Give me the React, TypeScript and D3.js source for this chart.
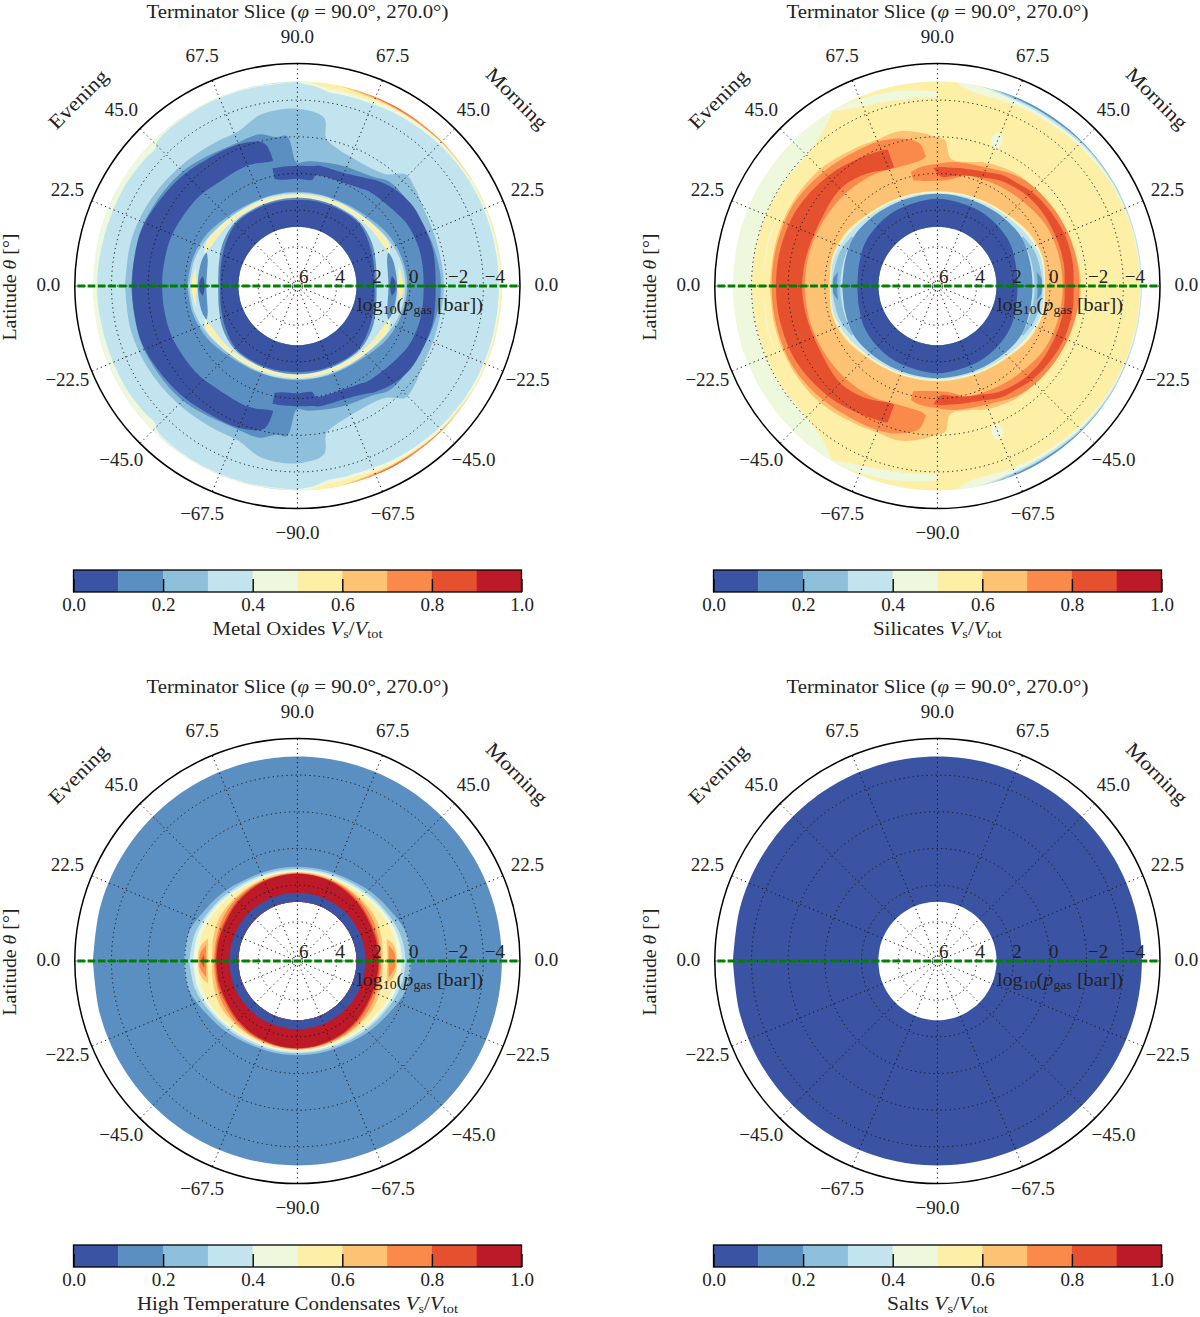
import React, { useEffect, useRef } from 'react';
import * as d3 from 'd3';

// discrete RdYlBu_r levels, one per 0.1 of Vs/Vtot
const bandColors = ['#3a54a3', '#5b8fc1', '#8ebfdb', '#c2e4ee', '#eef8dd', '#feefa6', '#fdc274', '#fa8a4c', '#e5502f', '#bc1a28'];
const cbarTicks = [0, 0.2, 0.4, 0.6, 0.8, 1];
const pressureTicks = [6, 4, 2, 0, -2, -4];
const latTicks = [90, 67.5, 45, 22.5, 0, -22.5, -45, -67.5];
const panelNames = ['Metal Oxides', 'Silicates', 'High Temperature Condensates', 'Salts'];
const nameWidths = [170, 129, 321, 101];

// Layers are painted in order and mirrored north/south.
// [band, angle from north pole (evening < 0 < morning), log10 p at deep edge, log10 p at shallow edge]
type Layer = [number, number[], number[] | number, number[] | number];

const HOLE = 2.91;
const TOP = -5.01;
const ringAng = [-90, -75, -60, -45, -30, -15, 0, 15, 30, 45, 60, 75, 90];
const sym = (h: number[]) => [h[6], h[5], h[4], h[3], h[2], h[1], h[0], h[1], h[2], h[3], h[4], h[5], h[6]];
const flip = (l: Layer): Layer => [
  l[0],
  l[1].map((a) => -a).reverse(),
  Array.isArray(l[2]) ? [...l[2]].reverse() : l[2],
  Array.isArray(l[3]) ? [...l[3]].reverse() : l[3],
];
const sides = (l: Layer): Layer[] => [l, flip(l)];

const metalOxides: Layer[] = [
  [3, ringAng, HOLE, TOP],
  [4, [-90, -75, -60, -50, -46, -44, -30, -15, 0], [-4.79, -4.74, -4.74, -4.68, -4.63, -4.85, -4.95, -4.95, -4.98], TOP],
  [4, [0, 5, 9, 15, 30, 45, 60, 75, 90], [-4.95, -4.79, -4.57, -4.57, -4.68, -4.79, -4.85, -4.85, -4.85], TOP],
  [5, [3, 8, 15, 30, 45, 60, 75, 90], [-5.01, -4.79, -4.74, -4.85, -4.93, -4.95, -4.95, -4.95], TOP],
  [6, [12, 20, 30, 45, 60], [-5.01, -4.9, -4.9, -4.95, -5.01], TOP],
  [7, [15, 25, 35, 45, 50], [-5.01, -4.95, -4.93, -4.98, -5.01], TOP],
  [8, [20, 28, 36], [-5.01, -4.98, -5.01], TOP],
  // mid-atmosphere deck
  [2, [-90, -75, -60, -44, -30, -21, -12, 0, 9, 11, 14, 21, 38, 44, 50, 58, 70, 85, 90], 1.5,
    [-3.26, -3.26, -3.15, -2.99, -2.88, -2.88, -3.42, -3.53, -3.15, -2.06, -1.79, -1.51, -1.62, -2.33, -2.22, -1.95, -1.84, -1.84, -1.84]],
  [1, [-90, -70, -46, -23, -14, -8, -4, -1, 0, 5, 20, 34, 42, 60, 72, 85, 90], 1.33,
    [-2.93, -2.93, -2.72, -2.33, -2.39, -2.06, -2.06, -0.69, -0.58, -0.69, -0.86, -1.08, -1.46, -1.46, -1.57, -1.68, -1.68]],
  [0, [-90, -80, -68, -50, -38, -22, -13, -11], [-1.24, -1.24, -1.24, -1.13, -0.97, -0.97, -0.8, -0.8],
    [-2.88, -2.88, -2.88, -2.6, -2.39, -2.22, -1.84, -0.91]],
  [0, [-12, -8, 0, 8, 9.5, 25, 33, 36, 45, 54, 62, 75, 90], [0.18, 0.29, 0.29, 0.29, 0.02, -0.04, -0.2, -0.31, -0.42, -0.58, -0.75, -0.8, -0.75],
    [-0.42, -0.42, -0.42, -0.47, -0.53, -0.58, -0.86, -1.02, -1.35, -1.51, -1.51, -1.51, -1.4]],
  // deep condensation shell
  [2, ringAng, 1.98, sym([1.0, 1.0, 0.95, 0.78, 0.45, 0.24, 0.13])],
  [3, ringAng, 1.98, sym([1.06, 1.03, 1.0, 0.89, 0.62, 0.35, 0.24])],
  [4, [-71, -64, -55, -45, -30, -15, 0, 15, 30, 45, 55, 64, 71], [0.78, 0.97, 1.05, 1.14, 1.25, 1.3, 1.3, 1.3, 1.25, 1.14, 1.05, 0.97, 0.78],
    [0.78, 0.62, 0.78, 0.92, 1.05, 1.13, 1.13, 1.13, 1.05, 0.92, 0.78, 0.62, 0.78]],
  [5, [-70, -64, -55, -45, -30, -15, 0, 15, 30, 45, 55, 64, 70], [0.78, 0.95, 1.03, 1.11, 1.22, 1.27, 1.27, 1.27, 1.22, 1.11, 1.03, 0.95, 0.78],
    [0.78, 0.67, 0.84, 0.97, 1.08, 1.16, 1.16, 1.16, 1.08, 0.97, 0.84, 0.67, 0.78]],
  ...sides([1, [70, 74, 80, 90], [0.89, 1.05, 1.14, 1.17], [0.84, 0.75, 0.72, 0.7]]),
  ...sides([0, [84, 87, 90], [0.95, 1.05, 1.08], [0.95, 0.8, 0.78]]),
  ...sides([5, [78, 84, 90], [0.5, 0.58, 0.67], [0.5, 0.42, 0.35]]),
  [1, ringAng, HOLE, sym([1.33, 1.33, 1.3, 1.27, 1.44, 1.7, 1.82])],
  [0, ringAng, HOLE, sym([1.44, 1.41, 1.38, 1.36, 1.6, 1.82, 1.93])],
];

const silicates: Layer[] = [
  [5, ringAng, HOLE, TOP],
  [4, [-90, -75, -60, -45, -38, -31], [-3.97, -3.97, -3.97, -3.97, -4.24, -4.95], TOP],
  [4, [-31, -26, -16, -8, 0], [-4.95, -4.63, -4.3, -4.19, -4.14], [-5.01, -4.95, -4.79, -4.63, -4.46]],
  [4, [-88, -75, -63], [-3.34, -3.37, -3.34], [-3.34, -3.43, -3.34]],
  [4, [5, 10, 20, 30, 45, 60, 75, 90], [-5.01, -4.63, -4.57, -4.63, -4.74, -4.85, -4.9, -4.9], TOP],
  [3, [12, 20, 30, 45, 60, 75, 90], [-5.01, -4.85, -4.79, -4.87, -4.93, -4.95, -4.95], TOP],
  [2, [15, 22, 30, 45, 60, 75], [-5.01, -4.9, -4.9, -4.95, -4.98, -5.01], TOP],
  [1, [18, 25, 35, 45, 55], [-5.01, -4.95, -4.93, -4.98, -5.01], TOP],
  [4, [20, 21.5, 23, 24.5], [-2.5, -2.05, -1.95, -2.5], [-2.5, -2.88, -2.8, -2.5]],
  [6, [-90, -75, -60, -45, -30, -23, -14, -5, 0, 3, 6, 15, 21, 35, 51, 68, 85, 90], 1.49,
    [-3.0, -3.0, -2.99, -2.88, -2.6, -2.5, -2.55, -2.22, -1.95, -1.84, -0.86, -0.86, -1.08, -1.35, -1.41, -1.57, -1.68, -1.68]],
  [7, [-90, -75, -60, -45, -30, -20, -12, -7, -5], [-1.08, -1.08, -1.02, -0.97, -0.86, -0.69, -0.69, -0.8, -0.97],
    [-2.9, -2.9, -2.88, -2.66, -2.44, -2.33, -2.06, -1.68, -0.86]],
  [7, [-13, -8, 0, 5, 8, 15, 25, 35, 45, 60, 75, 90], [0.24, 0.35, 0.4, 0.35, 0.24, -0.09, -0.2, -0.31, -0.42, -0.64, -0.69, -0.69],
    [-0.25, -0.42, -0.53, -0.64, -0.69, -0.75, -0.91, -1.24, -1.41, -1.51, -1.57, -1.62]],
  [8, [-90, -78, -62, -45, -33, -22, -20], [-1.24, -1.2, -1.16, -1.35, -1.13, -0.75, -0.75],
    [-2.66, -2.66, -2.6, -2.33, -2.06, -1.84, -1.79]],
  [8, [-2, 2, 6, 12, 22, 30, 38, 45, 55, 68, 80, 90], [-0.31, 0.18, 0.13, -0.04, -0.25, -0.53, -0.69, -0.8, -0.86, -0.86, -0.86, -0.8],
    [-0.31, -0.36, -0.36, -0.42, -0.58, -0.86, -0.97, -1.13, -1.24, -1.35, -1.35, -1.29]],
  // blue core of the slice
  [5, ringAng, HOLE, sym([0.95, 0.93, 0.84, 0.67, 0.35, 0.18, 0.27])],
  [4, ringAng, HOLE, sym([1.0, 0.97, 0.89, 0.73, 0.43, 0.24, 0.3])],
  [3, ringAng, HOLE, sym([1.06, 1.03, 0.95, 0.78, 0.51, 0.29, 0.33])],
  ...sides([2, [60, 70, 80, 90], [0.84, 0.84, 0.84, 0.84], [0.73, 0.52, 0.45, 0.4]]),
  [1, ringAng, HOLE, sym([1.11, 1.11, 1.06, 0.95, 0.84, 0.92, 0.95])],
  ...sides([1, [82, 86, 90], [0.67, 0.67, 0.67], [0.67, 0.45, 0.45]]),
  [0, ringAng, HOLE, sym([1.38, 1.44, 1.44, 1.49, 1.55, 1.71, 1.77])],
];

const highTempCondensates: Layer[] = [
  [1, ringAng, HOLE, TOP],
  [2, ringAng, HOLE, sym([1.0, 0.97, 0.89, 0.67, 0.4, 0.02, -0.04])],
  [3, ringAng, HOLE, sym([1.11, 1.08, 1.0, 0.84, 0.62, 0.35, 0.24])],
  [4, ringAng, HOLE, sym([1.19, 1.17, 1.11, 0.95, 0.73, 0.51, 0.45])],
  [5, ringAng, HOLE, sym([1.27, 1.25, 1.22, 1.08, 0.89, 0.73, 0.67])],
  ...sides([6, [76, 80, 85, 90], [1.11, 1.19, 1.22, 1.22], [1.11, 0.84, 0.73, 0.73]]),
  ...sides([7, [80, 85, 90], [1.08, 1.14, 1.17], [1.08, 0.84, 0.78]]),
  [8, [-90, -86], [1.08, 1.03], [0.89, 1.03]],
  [6, ringAng, HOLE, sym([1.3, 1.3, 1.3, 1.3, 1.27, 1.38, 1.49])],
  [7, ringAng, HOLE, sym([1.33, 1.36, 1.36, 1.38, 1.44, 1.55, 1.57])],
  [8, ringAng, HOLE, sym([1.36, 1.38, 1.41, 1.49, 1.6, 1.63, 1.66])],
  [9, ringAng, HOLE, sym([1.38, 1.41, 1.47, 1.57, 1.68, 1.71, 1.71])],
  [0, ringAng, HOLE, 2.42],
];

const salts: Layer[] = [[0, ringAng, HOLE, TOP]];

const panelLayers = [metalOxides, silicates, highTempCondensates, salts];

const CX = 297.4;
const CY = 286;
const RIM = 222.6;
const rScale = d3.scaleLinear().domain([6, -6]).range([2.5, RIM]);
const angScale = d3.scaleLinear().domain([0, 180]).range([0, Math.PI]);
const cbarScale = d3.scaleLinear().domain([0, 1]).range([73.5, 521.5]);

const fmtLat = (v: number) => (v < 0 ? '\u2212' : '') + Math.abs(v).toFixed(1);
const fmtP = (v: number) => (v < 0 ? '\u2212' : '') + Math.abs(v);

type Pt = [number, number, number];
const area = d3
  .areaRadial<Pt>()
  .curve(d3.curveCatmullRom.alpha(0.5))
  .angle((d) => angScale(d[0]))
  .innerRadius((d) => rScale(d[1]))
  .outerRadius((d) => rScale(d[2]));

// north half plus its mirror; joined across the equator where the layer reaches it
function layerPaths(l: Layer): string[] {
  const pts: Pt[] = l[1].map((a, i) => [
    a,
    Array.isArray(l[2]) ? l[2][i] : l[2],
    Array.isArray(l[3]) ? l[3][i] : l[3],
  ]);
  const first = pts[0][0];
  const last = pts[pts.length - 1][0];
  const south = (a: number) => (a < 0 ? -180 - a : 180 - a);
  const mirrored: Pt[] = pts.map((p) => [south(p[0]), p[1], p[2]]);
  if (first === -90 && last === 90) {
    const back: Pt[] = pts.map((p) => [180 - p[0], p[1], p[2]]).reverse().slice(1) as Pt[];
    return [area([...pts, ...back]) as string];
  }
  if (last === 90) return [area([...pts, ...mirrored.reverse().slice(1)]) as string];
  if (first === -90) return [area([...mirrored.reverse().slice(0, -1), ...pts]) as string];
  return [area(pts) as string, area(mirrored.reverse()) as string];
}

const serif = "'Liberation Serif', serif";
const ink = '#222';

function Colorbar({ name, width }: { name: string; width: number }) {
  const axisRef = useRef<SVGGElement>(null);
  useEffect(() => {
    const axis = d3.axisBottom(cbarScale).tickValues(cbarTicks).tickSize(-13).tickPadding(6).tickFormat(d3.format('.1f') as any);
    const g = d3.select(axisRef.current as SVGGElement).call(axis as any);
    g.select('.domain').remove();
    g.selectAll('.tick line').attr('stroke', '#000').attr('stroke-width', 1.4);
    g.selectAll('.tick text').attr('fill', ink).style('font-family', serif).style('font-size', '19px');
  }, []);
  const cbarW = cbarScale(1) - cbarScale(0);
  return (
    <g>
      {bandColors.map((c, i) => (
        <rect key={c} x={cbarScale(i / 10)} y={570} width={cbarW / 10 + 0.3} height={22} fill={c} />
      ))}
      <g ref={axisRef} transform="translate(0,592)" />
      <rect x={cbarScale(0)} y={570} width={cbarW} height={22} fill="none" stroke="#000" strokeWidth={1.3} />
      <text x={CX} y={635} textAnchor="middle" fontSize={19} fill={ink} textLength={width} lengthAdjust="spacingAndGlyphs">
        {name} <tspan fontStyle="italic">V</tspan>
        <tspan fontSize={13} dy={3}>s</tspan>
        <tspan dy={-3}>/</tspan>
        <tspan fontStyle="italic">V</tspan>
        <tspan fontSize={13} dy={3}>tot</tspan>
      </text>
    </g>
  );
}

function Panel({ index }: { index: number }) {
  const ox = index % 2 === 1 ? 640 : 0;
  const oy = index > 1 ? 675 : 0;
  const spokes = d3.range(16).map((i) => i * 22.5);
  return (
    <g transform={`translate(${ox},${oy})`} fontFamily={serif}>
      <text x={CX} y={18} textAnchor="middle" fontSize={19} fill={ink} textLength={302} lengthAdjust="spacingAndGlyphs">
        Terminator Slice (<tspan fontStyle="italic">φ</tspan> = 90.0°, 270.0°)
      </text>
      <g transform={`translate(${CX},${CY})`}>
        {panelLayers[index].flatMap((l, i) =>
          layerPaths(l).map((d, j) => <path key={`${i}-${j}`} d={d} fill={bandColors[l[0]]} />),
        )}
        {pressureTicks.map((p) => (
          <circle key={p} r={p === 6 ? 5 : rScale(p)} fill="none" stroke="#111" strokeWidth={1} strokeDasharray="1.2 3.4" />
        ))}
        {spokes.map((a) => {
          const t = angScale(a);
          return (
            <line key={a} x1={0} y1={0} x2={RIM * Math.sin(t)} y2={-RIM * Math.cos(t)} stroke="#111" strokeWidth={1} strokeDasharray="1.2 3.4" />
          );
        })}
        <line x1={-RIM} x2={RIM} y1={0} y2={0} stroke="#008000" strokeWidth={2.9} strokeDasharray="7.7 2.6" strokeDashoffset={-2.5} />
        <circle r={RIM} fill="none" stroke="#000" strokeWidth={1.5} />
        {pressureTicks.map((p) => (
          <text key={p} x={rScale(p) + (p < 0 ? 1.5 : -1)} y={-3} fontSize={19} fill={ink}>
            {fmtP(p)}
          </text>
        ))}
        <text x={59.5} y={25} fontSize={19} fill={ink} textLength={126} lengthAdjust="spacingAndGlyphs">
          log<tspan fontSize={13} dy={3}>10</tspan>
          <tspan dy={-3}>(</tspan>
          <tspan fontStyle="italic">p</tspan>
          <tspan fontSize={13} dy={3}>gas</tspan>
          <tspan dy={-3}> [bar])</tspan>
        </text>
        {latTicks.map((lat) => {
          const t = angScale(90 - lat);
          const ll = lat === 90 ? [1] : [1, -1];
          return ll.map((s) => (
            <text key={`${lat}${s}`} x={s * 249 * Math.sin(t)} y={-248 * Math.cos(t) + 5} textAnchor="middle" fontSize={19} fill={ink}>
              {fmtLat(lat)}
            </text>
          ));
        })}
        <text x={0} y={248 + 5} textAnchor="middle" fontSize={19} fill={ink}>
          {fmtLat(-90)}
        </text>
      </g>
      <text transform="translate(16,287) rotate(-90)" textAnchor="middle" fontSize={19} fill={ink} textLength={107} lengthAdjust="spacingAndGlyphs">
        Latitude <tspan fontStyle="italic">θ</tspan> [°]
      </text>
      <text transform="translate(83,104) rotate(-45)" textAnchor="middle" fontSize={20} fill={ink} textLength={75} lengthAdjust="spacingAndGlyphs">
        Evening
      </text>
      <text transform="translate(512,103) rotate(45)" textAnchor="middle" fontSize={20} fill={ink} textLength={78} lengthAdjust="spacingAndGlyphs">
        Morning
      </text>
      <Colorbar name={panelNames[index]} width={nameWidths[index]} />
    </g>
  );
}

export default function App() {
  return (
    <svg width={1200} height={1317} style={{ position: 'absolute', left: 0, top: 0 }}>
      {panelNames.map((n, i) => (
        <Panel key={n} index={i} />
      ))}
    </svg>
  );
}
